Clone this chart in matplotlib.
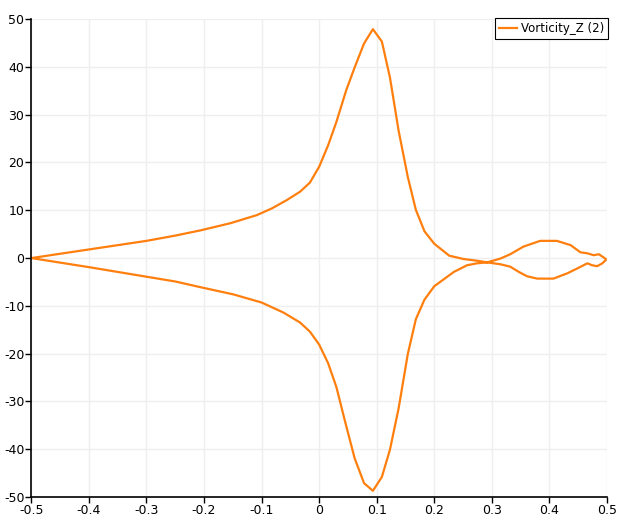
import matplotlib
matplotlib.use("Agg")
import matplotlib.pyplot as plt
from matplotlib.ticker import FuncFormatter

plt.rcParams['font.family'] = ['DejaVu Sans']
plt.rcParams['axes.unicode_minus'] = False

# upper branch, left to right
upper_x = [-0.5, -0.45, -0.4, -0.35, -0.3, -0.25, -0.206, -0.154, -0.108, -0.082,
           -0.056, -0.033, -0.016, 0.0, 0.0156, 0.030, 0.047, 0.0617, 0.078, 0.0934,
           0.109, 0.123, 0.138, 0.154, 0.168, 0.183, 0.2, 0.226, 0.251, 0.274,
           0.292, 0.315, 0.332, 0.347, 0.361, 0.379, 0.407, 0.431, 0.448, 0.466,
           0.474, 0.483, 0.492, 0.499]
upper_y = [0.0, 0.9, 1.8, 2.7, 3.6, 4.7, 5.8, 7.3, 9.0, 10.4,
           12.15, 13.9, 15.8, 19.1, 23.6, 28.5, 35.1, 39.9, 44.9, 47.9,
           45.3, 37.8, 26.7, 17.0, 10.1, 5.6, 3.0, 0.5, -0.2, -0.55,
           -0.9, -1.3, -1.8, -2.9, -3.8, -4.3, -4.3, -3.2, -2.2, -1.1,
           -1.5, -1.7, -1.1, -0.3]

# lower branch, right to left
lower_x = [0.494, 0.486, 0.477, 0.466, 0.454, 0.437, 0.413, 0.384, 0.355, 0.332,
           0.315, 0.292, 0.274, 0.257, 0.234, 0.2, 0.183, 0.168, 0.154, 0.138,
           0.123, 0.109, 0.0934, 0.078, 0.0617, 0.0444, 0.030, 0.0156, 0.0, -0.016,
           -0.033, -0.062, -0.1, -0.149, -0.206, -0.25, -0.3, -0.35, -0.4, -0.45, -0.5]
lower_y = [0.15, 0.8, 0.6, 1.0, 1.2, 2.7, 3.6, 3.6, 2.4, 0.8,
           -0.1, -0.9, -1.1, -1.5, -2.9, -5.9, -8.7, -12.8, -20.1, -31.5,
           -40.1, -45.8, -48.7, -47.1, -41.9, -33.9, -27.0, -22.0, -18.1, -15.4,
           -13.5, -11.4, -9.3, -7.6, -6.1, -4.9, -3.9, -2.9, -1.9, -0.95, 0.0]

xs = upper_x + lower_x
ys = upper_y + lower_y

fig = plt.figure(figsize=(6.27, 5.24), dpi=100)
ax = fig.add_axes([0.050, 0.0515, 0.918, 0.912])

ax.plot(xs, ys, color='#ff7f0e', linewidth=1.6, label='Vorticity_Z (2)')

ax.set_xlim(-0.5, 0.5)
ax.set_ylim(-50, 50)
ax.set_xticks([i / 10 for i in range(-5, 6)])
ax.set_yticks(range(-50, 51, 10))
ax.xaxis.set_major_formatter(FuncFormatter(lambda v, p: '%g' % round(v, 1)))
ax.yaxis.set_major_formatter(FuncFormatter(lambda v, p: '%d' % v))
ax.grid(True, color='#efefef', linewidth=1)
ax.set_axisbelow(True)

for s in ['top', 'right']:
    ax.spines[s].set_visible(False)
for s in ['left', 'bottom']:
    ax.spines[s].set_color('black')
    ax.spines[s].set_linewidth(1.2)
ax.tick_params(direction='out', length=4, width=1, labelsize=9, pad=1)

leg = ax.legend(loc='upper right', bbox_to_anchor=(1.002, 1.003), fancybox=False,
                framealpha=1, edgecolor='black', fontsize=8.5, borderaxespad=0,
                handlelength=1.5, handletextpad=0.35, borderpad=0.35)
leg.get_frame().set_linewidth(0.8)

fig.savefig('out.png', dpi=100)
